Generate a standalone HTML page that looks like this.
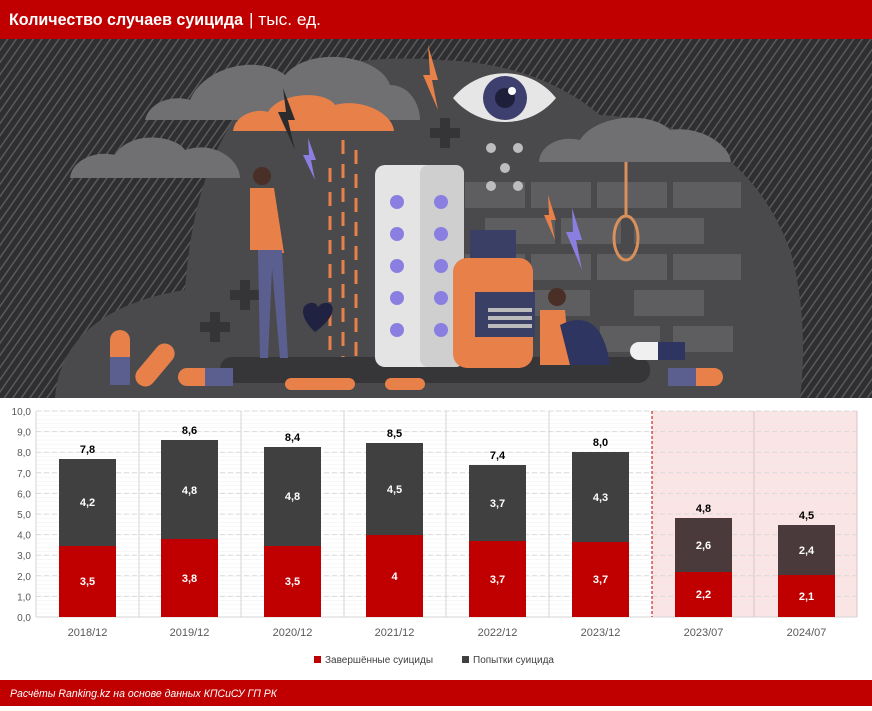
<!DOCTYPE html>
<html><head><meta charset="utf-8"><style>
body{margin:0;width:872px;height:706px;overflow:hidden;background:#fff;font-family:"Liberation Sans",sans-serif}
</style></head><body>
<svg width="872" height="706" viewBox="0 0 872 706" xmlns="http://www.w3.org/2000/svg" font-family="Liberation Sans, sans-serif">
<defs>
<pattern id="st" width="7" height="7" patternUnits="userSpaceOnUse" patternTransform="rotate(35)">
<rect width="7" height="7" fill="#2f2f31"/><rect width="1.5" height="7" fill="#5a5a5c"/></pattern>
<pattern id="grid" width="10" height="4.12" patternUnits="userSpaceOnUse" y="411"><line x1="0" y1="0" x2="10" y2="0" stroke="#ececec" stroke-width="0.8"/></pattern>
</defs>
<!-- header -->
<rect x="0" y="0" width="872" height="39" fill="#c00000"/>
<text x="9" y="25" fill="#fff" font-size="17" font-weight="bold" textLength="234" lengthAdjust="spacingAndGlyphs">Количество случаев суицида</text>
<text x="249" y="25" fill="#fff" font-size="17" textLength="72" lengthAdjust="spacingAndGlyphs">| тыс. ед.</text>
<!-- illustration -->
<rect x="0" y="39" width="872" height="359" fill="url(#st)"/>
<path d="M55 398 C60 330 120 300 185 290 C190 220 205 160 240 110 C300 60 380 55 440 60 C520 62 570 90 600 115 C700 120 760 170 790 250 C805 300 805 360 800 398 Z" fill="#4a4a4c"/>
<!-- clouds -->
<g fill="#707072">
<path d="M70 178 C72 160 95 150 115 155 C130 130 175 135 185 150 C215 140 240 160 240 178 Z"/>
<path d="M145 120 C150 100 175 95 190 100 C205 65 260 55 285 75 C310 45 380 55 390 85 C410 85 420 105 420 120 Z"/>
<path d="M539 162 C540 145 560 135 580 140 C595 115 650 110 670 130 C700 125 730 145 731 162 Z"/>
</g>
<path d="M233 131 C235 115 255 108 268 112 C280 92 325 90 335 105 C360 98 392 112 394 131 Z" fill="#e8804a"/>
<!-- eye -->
<path d="M453 98 C480 65 530 65 556 98 C530 130 480 130 453 98 Z" fill="#e6e6e6"/>
<circle cx="505" cy="98" r="22" fill="#3d3f6e"/><circle cx="505" cy="98" r="10" fill="#1e1f3a"/><circle cx="512" cy="91" r="4" fill="#fff"/>
<!-- lightning -->
<path d="M428 45 L438 80 L432 80 L438 110 L423 75 L430 75 Z" fill="#e8804a"/>
<path d="M283 88 L295 120 L288 120 L295 150 L278 112 L286 112 Z" fill="#2b2b2d"/>
<path d="M308 138 L316 160 L311 160 L315 180 L303 155 L309 155 Z" fill="#8a7fe0"/>
<!-- rain -->
<g stroke="#e8804a" stroke-width="3" stroke-dasharray="14 10"><line x1="330" y1="168" x2="330" y2="360"/><line x1="343" y1="140" x2="343" y2="360"/><line x1="356" y1="150" x2="356" y2="360"/></g>
<!-- bricks -->
<g fill="#5e5e60">
<rect x="465" y="182" width="60" height="26"/><rect x="531" y="182" width="60" height="26"/><rect x="597" y="182" width="70" height="26"/><rect x="673" y="182" width="68" height="26"/>
<rect x="485" y="218" width="70" height="26"/><rect x="561" y="218" width="60" height="26"/><rect x="634" y="218" width="70" height="26"/>
<rect x="465" y="254" width="60" height="26"/><rect x="531" y="254" width="60" height="26"/><rect x="597" y="254" width="70" height="26"/><rect x="673" y="254" width="68" height="26"/>
<rect x="530" y="290" width="60" height="26"/><rect x="634" y="290" width="70" height="26"/>
<rect x="600" y="326" width="60" height="26"/><rect x="673" y="326" width="60" height="26"/>
</g>
<g fill="#bdbdbd"><circle cx="491" cy="148" r="5"/><circle cx="518" cy="148" r="5"/><circle cx="505" cy="168" r="5"/><circle cx="491" cy="186" r="5"/><circle cx="518" cy="186" r="5"/></g>
<path d="M572 208 L582 240 L576 240 L582 270 L566 232 L573 232 Z" fill="#8a7fe0"/>
<path d="M548 195 L556 220 L551 220 L555 240 L544 215 L549 215 Z" fill="#e8804a"/>
<!-- crosses -->
<g fill="#353537"><path d="M440 118h10v10h10v10h-10v10h-10v-10h-10v-10h10z"/><path d="M240 280h10v10h10v10h-10v10h-10v-10h-10v-10h10z"/><path d="M210 312h10v10h10v10h-10v10h-10v-10h-10v-10h10z"/></g>
<!-- noose -->
<path d="M626 162 L626 215" stroke="#d9905a" stroke-width="3" fill="none"/><ellipse cx="626" cy="238" rx="12" ry="22" fill="none" stroke="#d9905a" stroke-width="3"/>
<!-- floor -->
<rect x="220" y="357" width="430" height="26" rx="12" fill="#363638"/>
<!-- blister -->
<rect x="375" y="165" width="89" height="202" rx="10" fill="#e4e4e4"/><rect x="420" y="165" width="44" height="202" rx="8" fill="#cfcfcf"/>
<g fill="#8a7fe0"><circle cx="397" cy="202" r="7"/><circle cx="397" cy="234" r="7"/><circle cx="397" cy="266" r="7"/><circle cx="397" cy="298" r="7"/><circle cx="397" cy="330" r="7"/><circle cx="441" cy="202" r="7"/><circle cx="441" cy="234" r="7"/><circle cx="441" cy="266" r="7"/><circle cx="441" cy="298" r="7"/><circle cx="441" cy="330" r="7"/></g>
<!-- bottle -->
<rect x="470" y="230" width="46" height="30" fill="#3a3f66"/>
<rect x="453" y="258" width="80" height="110" rx="14" fill="#e8804a"/>
<rect x="475" y="292" width="60" height="45" fill="#3a3f66"/>
<g fill="#bbb"><rect x="488" y="308" width="44" height="4"/><rect x="488" y="316" width="44" height="4"/><rect x="488" y="324" width="44" height="4"/></g>
<!-- standing person -->
<circle cx="262" cy="176" r="9" fill="#4a2f26"/>
<path d="M250 188 h24 l10 65 h-10 v-3 h-24z" fill="#e8804a"/>
<path d="M258 250 h24 l6 108 h-8 l-8 -90 l-4 90 h-8z" fill="#5a5f90"/>
<!-- sitting person -->
<circle cx="557" cy="297" r="9" fill="#4a2f26"/>
<path d="M540 310 h25 l5 55 h-30z" fill="#e8804a"/>
<path d="M560 325 c30 -15 45 5 50 40 h-40z" fill="#2e3560"/>
<!-- heart -->
<path d="M315 332 C300 318 300 305 310 303 C316 302 318 306 318 308 C318 306 322 302 328 303 C336 305 335 318 315 332Z" fill="#1f2240"/>
<!-- pills bottom -->
<rect x="110" y="330" width="20" height="55" rx="10" fill="#e8804a"/><rect x="110" y="357" width="20" height="28" rx="0" fill="#5a5f90"/>
<rect x="145" y="340" width="20" height="50" rx="10" fill="#e8804a" transform="rotate(40 155 365)"/>
<rect x="178" y="368" width="55" height="18" rx="9" fill="#e8804a"/><rect x="205" y="368" width="28" height="18" fill="#5a5f90"/>
<rect x="285" y="378" width="70" height="12" rx="6" fill="#e8804a"/><rect x="385" y="378" width="40" height="12" rx="6" fill="#e8804a"/>
<rect x="630" y="342" width="55" height="18" rx="9" fill="#f0f0f0"/><rect x="658" y="342" width="27" height="18" fill="#2e3560"/>
<rect x="668" y="368" width="55" height="18" rx="9" fill="#e8804a"/><rect x="668" y="368" width="28" height="18" fill="#5a5f90"/>
<!-- chart -->
<rect x="0" y="398" width="872" height="282" fill="#fff"/>
<rect x="652" y="411" width="205" height="206" fill="#fbe4e4"/>
<rect x="36" y="411" width="821" height="206" fill="url(#grid)"/>
<g stroke="#d9d9d9" stroke-dasharray="5 3" stroke-width="1">
<line x1="36" y1="411" x2="857" y2="411"/><line x1="36" y1="431.6" x2="857" y2="431.6"/><line x1="36" y1="452.2" x2="857" y2="452.2"/><line x1="36" y1="472.8" x2="857" y2="472.8"/><line x1="36" y1="493.4" x2="857" y2="493.4"/><line x1="36" y1="514" x2="857" y2="514"/><line x1="36" y1="534.6" x2="857" y2="534.6"/><line x1="36" y1="555.2" x2="857" y2="555.2"/><line x1="36" y1="575.8" x2="857" y2="575.8"/><line x1="36" y1="596.4" x2="857" y2="596.4"/>
</g>
<g stroke="#d4d4d4"><line x1="36" y1="411" x2="36" y2="617"/><line x1="139" y1="411" x2="139" y2="617"/><line x1="241" y1="411" x2="241" y2="617"/><line x1="344" y1="411" x2="344" y2="617"/><line x1="446" y1="411" x2="446" y2="617"/><line x1="549" y1="411" x2="549" y2="617"/><line x1="754" y1="411" x2="754" y2="617" stroke="#d8c4c4"/><line x1="857" y1="411" x2="857" y2="617" stroke="#d8c4c4"/><line x1="36" y1="617" x2="857" y2="617"/></g>
<line x1="652" y1="411" x2="652" y2="617" stroke="#c00000" stroke-dasharray="3 2"/>
<g font-size="10" fill="#595959" text-anchor="end">
<text x="31" y="415">10,0</text><text x="31" y="435.6">9,0</text><text x="31" y="456.2">8,0</text><text x="31" y="476.8">7,0</text><text x="31" y="497.4">6,0</text><text x="31" y="518">5,0</text><text x="31" y="538.6">4,0</text><text x="31" y="559.2">3,0</text><text x="31" y="579.8">2,0</text><text x="31" y="600.4">1,0</text><text x="31" y="621">0,0</text>
</g>
<!-- bars -->
<g>
<rect x="59" y="546" width="57" height="71" fill="#c00000"/><rect x="59" y="459" width="57" height="87" fill="#404040"/>
<rect x="161" y="539" width="57" height="78" fill="#c00000"/><rect x="161" y="440" width="57" height="99" fill="#404040"/>
<rect x="264" y="546" width="57" height="71" fill="#c00000"/><rect x="264" y="447" width="57" height="99" fill="#404040"/>
<rect x="366" y="535" width="57" height="82" fill="#c00000"/><rect x="366" y="443" width="57" height="92" fill="#404040"/>
<rect x="469" y="541" width="57" height="76" fill="#c00000"/><rect x="469" y="465" width="57" height="76" fill="#404040"/>
<rect x="572" y="542" width="57" height="75" fill="#c00000"/><rect x="572" y="452" width="57" height="90" fill="#404040"/>
<rect x="675" y="572" width="57" height="45" fill="#c00000"/><rect x="675" y="518" width="57" height="54" fill="#4a3a3b"/>
<rect x="778" y="575" width="57" height="42" fill="#c00000"/><rect x="778" y="525" width="57" height="50" fill="#4a3a3b"/>
</g>
<g font-size="11" font-weight="bold" text-anchor="middle" fill="#000">
<text x="87.5" y="453">7,8</text><text x="189.5" y="434">8,6</text><text x="292.5" y="441">8,4</text><text x="394.5" y="437">8,5</text><text x="497.5" y="459">7,4</text><text x="600.5" y="446">8,0</text><text x="703.5" y="512">4,8</text><text x="806.5" y="519">4,5</text>
</g>
<g font-size="11" font-weight="bold" text-anchor="middle" fill="#fff">
<text x="87.5" y="506">4,2</text><text x="189.5" y="494">4,8</text><text x="292.5" y="500">4,8</text><text x="394.5" y="493">4,5</text><text x="497.5" y="507">3,7</text><text x="600.5" y="501">4,3</text><text x="703.5" y="549">2,6</text><text x="806.5" y="554">2,4</text>
<text x="87.5" y="585">3,5</text><text x="189.5" y="582">3,8</text><text x="292.5" y="585">3,5</text><text x="394.5" y="580">4</text><text x="497.5" y="583">3,7</text><text x="600.5" y="583">3,7</text><text x="703.5" y="598">2,2</text><text x="806.5" y="600">2,1</text>
</g>
<g font-size="11" fill="#595959" text-anchor="middle">
<text x="87.5" y="636">2018/12</text><text x="189.5" y="636">2019/12</text><text x="292.5" y="636">2020/12</text><text x="394.5" y="636">2021/12</text><text x="497.5" y="636">2022/12</text><text x="600.5" y="636">2023/12</text><text x="703.5" y="636">2023/07</text><text x="806.5" y="636">2024/07</text>
</g>
<rect x="314" y="656" width="7" height="7" fill="#c00000"/><text x="325" y="663" font-size="10" fill="#404040">Завершённые суициды</text>
<rect x="462" y="656" width="7" height="7" fill="#404040"/><text x="473" y="663" font-size="10" fill="#404040">Попытки суицида</text>
<!-- footer -->
<rect x="0" y="680" width="872" height="26" fill="#c00000"/>
<text x="10" y="697" fill="#fff" font-size="11" font-style="italic" textLength="267" lengthAdjust="spacingAndGlyphs">Расчёты Ranking.kz на основе данных КПСиСУ ГП РК</text>
</svg>
</body></html>
